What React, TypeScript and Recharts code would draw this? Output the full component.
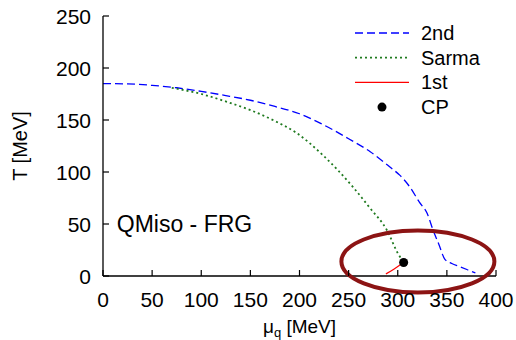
import React from 'react';
import { ComposedChart, Line, Scatter, XAxis, YAxis, Legend, ReferenceDot, Label } from 'recharts';

// tick labels
const muTicks = [0, 50, 100, 150, 200, 250, 300, 350, 400];
const tTicks = [0, 50, 100, 150, 200, 250];

// 2nd order transition line
const secondMu = [0, 25, 50, 75, 100, 125, 150, 175, 200, 221, 250, 272, 293, 302, 312, 322, 330, 336, 342, 348, 355, 363, 371, 379];
const secondT = [185, 184.7, 183.3, 181, 177.5, 173.5, 169, 163, 156, 147, 132, 119.5, 104, 97, 86, 71, 60, 44, 30, 16, 12, 9, 6, 3];

// Sarma line
const sarmaMu = [70, 100, 126, 150, 175, 197, 224, 254, 272, 289, 300, 306];
const sarmaT = [181, 175, 167.5, 159.5, 149, 137.5, 116, 86, 65, 44, 22, 13];

// 1st order transition line
const firstMu = [288, 296, 303];
const firstT = [2, 6.5, 11];

// critical point
const cpMu = [306];
const cpT = [13];

// highlighted region (ellipse centre)
const ringMu = 320.5;
const ringT = 14;

const zip = (xs: number[], ys: number[]) => xs.map((mu, i) => ({ mu, T: ys[i] }));

const secondData = zip(secondMu, secondT);
const sarmaData = zip(sarmaMu, sarmaT);
const firstData = zip(firstMu, firstT);
const cpData = zip(cpMu, cpT);

const FONT = '"Liberation Sans", Arial, sans-serif';
const BLUE = '#0000ff';
const GREEN = '#1f7a1f';
const RED = '#ff0000';

const BottomTick = ({ x, y, payload }: any) => (
  <g>
    <line x1={x} y1={y} x2={x} y2={y - 6} stroke="#000" strokeWidth={1.2} />
    <text x={x} y={y + 31} textAnchor="middle" fontFamily={FONT} fontSize={21} fill="#000">
      {payload.value}
    </text>
  </g>
);

const LeftTick = ({ x, y, payload }: any) => (
  <g>
    <line x1={x} y1={y} x2={x + 6} y2={y} stroke="#000" strokeWidth={1.2} />
    <text x={x - 12} y={y + 7.5} textAnchor="end" fontFamily={FONT} fontSize={21} fill="#000">
      {payload.value}
    </text>
  </g>
);

const TopTick = ({ x, y }: any) => <line x1={x} y1={y} x2={x} y2={y + 6} stroke="#000" strokeWidth={1.2} />;

const RightTick = ({ x, y }: any) => <line x1={x} y1={y} x2={x - 6} y2={y} stroke="#000" strokeWidth={1.2} />;

const legendItems = [
  { name: '2nd', color: BLUE, dash: '8 4', width: 1.3 },
  { name: 'Sarma', color: GREEN, dash: '2 3', width: 1.8 },
  { name: '1st', color: RED, dash: undefined, width: 1.2 },
];

const LegendBox = () => (
  <svg width={150} height={100} style={{ display: 'block' }}>
    {legendItems.map((it, i) => (
      <g key={it.name}>
        <line x1={5} x2={59} y1={13 + i * 24.7} y2={13 + i * 24.7} stroke={it.color} strokeWidth={it.width} strokeDasharray={it.dash} />
        <text x={71} y={13 + i * 24.7 + 7} fontFamily={FONT} fontSize={20} fill="#000">
          {it.name}
        </text>
      </g>
    ))}
    <circle cx={32} cy={13 + 3 * 24.7} r={4.5} fill="#000" />
    <text x={71} y={13 + 3 * 24.7 + 7} fontFamily={FONT} fontSize={20} fill="#000">
      CP
    </text>
  </svg>
);

const Ring = ({ cx, cy }: any) => (
  <ellipse cx={cx} cy={cy} rx={76.5} ry={31} fill="none" stroke="#8c1414" strokeWidth={4} />
);

const ModelTag = ({ cx, cy }: any) => (
  <text x={cx} y={cy} fontFamily={FONT} fontSize={23} fill="#000">
    QMiso - FRG
  </text>
);

const App = () => {
  return (
    <div>
      <style>{'body{margin:0}'}</style>
      <ComposedChart width={516} height={340} margin={{ top: 16, right: 20, bottom: 0, left: 0 }}>
        <XAxis
          dataKey="mu"
          type="number"
          domain={[0, 400]}
          ticks={muTicks}
          height={64}
          tickSize={0}
          tickMargin={0}
          tickLine={false}
          tick={<BottomTick />}
          axisLine={{ stroke: '#000', strokeWidth: 1.3 }}
          interval={0}
        >
          <Label
            content={({ viewBox }: any) => (
              <text
                x={viewBox.x + viewBox.width / 2}
                y={viewBox.y + 57}
                textAnchor="middle"
                fontFamily={FONT}
                fontSize={19}
                fill="#000"
              >
                μ<tspan fontSize={13} dy={4}>q</tspan>
                <tspan dy={-4}> [MeV]</tspan>
              </text>
            )}
          />
        </XAxis>
        <XAxis
          xAxisId="top"
          orientation="top"
          type="number"
          domain={[0, 400]}
          ticks={muTicks}
          height={0}
          tickSize={0}
          tickLine={false}
          tick={<TopTick />}
          axisLine={{ stroke: '#000', strokeWidth: 1.3 }}
          interval={0}
        />
        <YAxis
          type="number"
          domain={[0, 250]}
          ticks={tTicks}
          width={103}
          tickSize={0}
          tickMargin={0}
          tickLine={false}
          tick={<LeftTick />}
          axisLine={{ stroke: '#000', strokeWidth: 1.3 }}
          interval={0}
        >
          <Label
            content={({ viewBox }: any) => {
              const cx = viewBox.x + 27;
              const cy = viewBox.y + viewBox.height / 2;
              return (
                <text
                  x={cx}
                  y={cy}
                  transform={`rotate(-90 ${cx} ${cy})`}
                  textAnchor="middle"
                  fontFamily={FONT}
                  fontSize={20}
                  fill="#000"
                >
                  T [MeV]
                </text>
              );
            }}
          />
        </YAxis>
        <YAxis
          yAxisId="right"
          orientation="right"
          type="number"
          domain={[0, 250]}
          ticks={tTicks}
          width={0}
          tickSize={0}
          tickLine={false}
          tick={<RightTick />}
          axisLine={{ stroke: '#000', strokeWidth: 1.3 }}
          interval={0}
        />
        <Legend
          layout="vertical"
          align="center"
          verticalAlign="middle"
          wrapperStyle={{ left: 350, top: 20, width: 150, height: 100 }}
          content={<LegendBox />}
        />
        <Line data={secondData} dataKey="T" type="monotone" stroke={BLUE} strokeWidth={1.3} strokeDasharray="8 4" dot={false} isAnimationActive={false} />
        <Line data={sarmaData} dataKey="T" type="monotone" stroke={GREEN} strokeWidth={1.8} strokeDasharray="2 3" dot={false} isAnimationActive={false} />
        <Line data={firstData} dataKey="T" type="monotone" stroke={RED} strokeWidth={1.2} dot={false} isAnimationActive={false} />
        <Scatter data={cpData} dataKey="T" fill="#000" isAnimationActive={false} />
        <ReferenceDot x={14} y={42} r={0} shape={<ModelTag />} />
        <ReferenceDot x={ringMu} y={ringT} r={0} shape={<Ring />} />
      </ComposedChart>
    </div>
  );
};

export default App;
